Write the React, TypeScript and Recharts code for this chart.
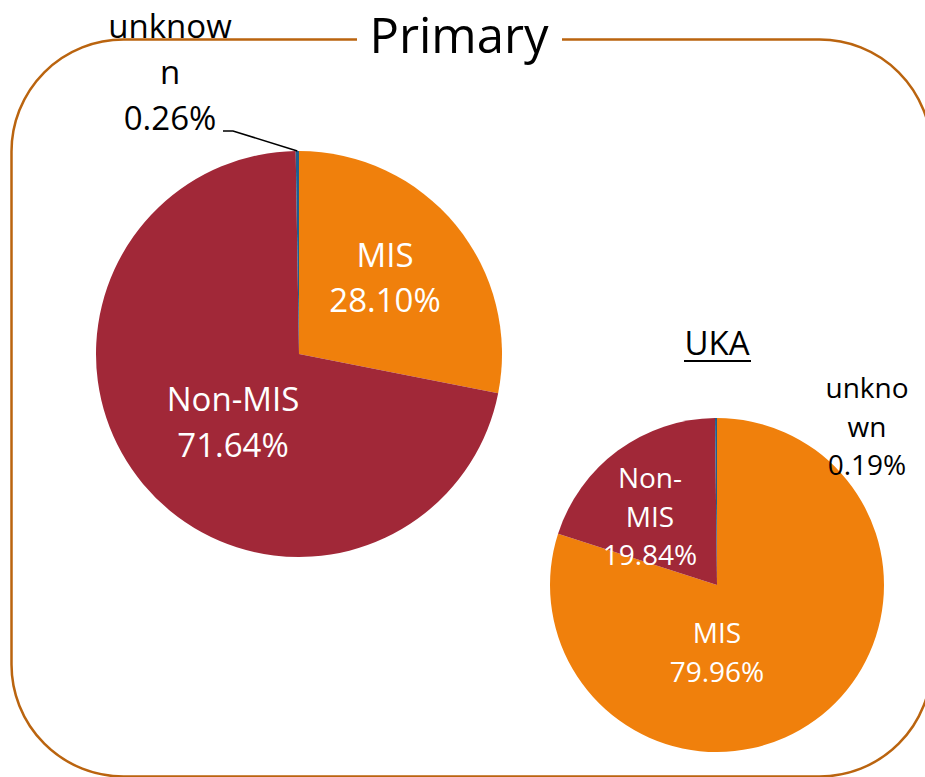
import React from 'react';
import { PieChart, Pie, Cell } from 'recharts';

const categories = ['MIS', 'Non-MIS', 'unknown'];
const primaryValues = [28.1, 71.64, 0.26];
const ukaValues = [79.96, 19.84, 0.19];
const chartTitle = 'Primary';
const subTitle = 'UKA';

const colors: Record<string, string> = {
  MIS: '#F0800C',
  'Non-MIS': '#A12838',
  unknown: '#1F5F8F',
};

const W = 925;
const H = 777;
const FONT = '"Open Sans", "Noto Sans", sans-serif';

const primaryData = categories.map((c, i) => ({ name: c, value: primaryValues[i] }));
const ukaData = categories.map((c, i) => ({ name: c, value: ukaValues[i] }));

type LabelCfg = { dx: number; dy: number; lh: number; lines: string[]; fill: string; size: number };

const primaryLabels: Record<string, LabelCfg> = {
  MIS: { dx: 86, dy: -87, lh: 45, lines: ['MIS'], fill: '#fff', size: 33 },
  'Non-MIS': { dx: -66, dy: 57, lh: 46, lines: ['Non-MIS'], fill: '#fff', size: 33 },
  unknown: { dx: -129, dy: -316, lh: 46, lines: ['unknow', 'n'], fill: '#000', size: 33 },
};

const ukaLabels: Record<string, LabelCfg> = {
  MIS: { dx: 0, dy: 58, lh: 39, lines: ['MIS'], fill: '#fff', size: 28 },
  'Non-MIS': { dx: -67, dy: -97, lh: 38.5, lines: ['Non-', 'MIS'], fill: '#fff', size: 28 },
  unknown: { dx: 150, dy: -187, lh: 38.5, lines: ['unkno', 'wn'], fill: '#000', size: 28 },
};

const RAD = Math.PI / 180;

function makeLabel(cfgMap: Record<string, LabelCfg>, leader: boolean) {
  return (props: any) => {
    const { cx, cy, name, value, midAngle, outerRadius } = props;
    const cfg = cfgMap[name];
    if (!cfg) return null;
    const x = cx + cfg.dx;
    const lines = [...cfg.lines, `${Number(value).toFixed(2)}%`];
    const els = lines.map((t, i) => (
      <text
        key={i}
        x={x}
        y={cy + cfg.dy + i * cfg.lh}
        textAnchor="middle"
        fill={cfg.fill}
        fontSize={cfg.size}
        fontFamily={FONT}
      >
        {t}
      </text>
    ));
    let line = null;
    if (leader && name === 'unknown') {
      const ex = cx + outerRadius * Math.cos(-midAngle * RAD);
      const ey = cy + outerRadius * Math.sin(-midAngle * RAD);
      const ly = cy + cfg.dy + (lines.length - 1) * cfg.lh + 1;
      line = (
        <polyline
          points={`${x + 53},${ly} ${x + 63},${ly} ${ex},${ey}`}
          fill="none"
          stroke="#000"
          strokeWidth={1.5}
        />
      );
    }
    return (
      <g>
        {line}
        {els}
      </g>
    );
  };
}

export default function App() {
  return (
    <div
      style={{
        position: 'absolute',
        left: 0,
        top: 0,
        width: W,
        height: H,
        overflow: 'hidden',
        background: '#fff',
      }}
    >
      <svg width={W} height={H} style={{ position: 'absolute', left: 0, top: 0 }}>
        <rect x={11.5} y={39.5} width={920} height={737} rx={112} ry={112} fill="none" stroke="#BA640F" strokeWidth={2.5} />
        <rect x={357} y={30} width={205} height={20} fill="#fff" />
        <text x={459} y={53} textAnchor="middle" fontSize={49} fontFamily={FONT} fill="#000">
          {chartTitle}
        </text>
        <text x={717} y={355} textAnchor="middle" fontSize={33} fontFamily={FONT} fill="#000">
          {subTitle}
        </text>
        <line x1={684} x2={751} y1={361} y2={361} stroke="#000" strokeWidth={1.8} />
      </svg>
      <div style={{ position: 'absolute', left: 0, top: 0 }}>
        <PieChart width={W} height={H} margin={{ top: 0, right: 0, bottom: 0, left: 0 }}>
          <Pie
            data={primaryData}
            dataKey="value"
            nameKey="name"
            cx={299}
            cy={354}
            outerRadius={203}
            startAngle={90}
            endAngle={-270}
            stroke="none"
            isAnimationActive={false}
            labelLine={false}
            label={makeLabel(primaryLabels, true)}
          >
            {primaryData.map((d) => (
              <Cell key={d.name} fill={colors[d.name]} />
            ))}
          </Pie>
          <Pie
            data={ukaData}
            dataKey="value"
            nameKey="name"
            cx={717}
            cy={585}
            outerRadius={167}
            startAngle={90}
            endAngle={-270}
            stroke="none"
            isAnimationActive={false}
            labelLine={false}
            label={makeLabel(ukaLabels, false)}
          >
            {ukaData.map((d) => (
              <Cell key={d.name} fill={colors[d.name]} />
            ))}
          </Pie>
        </PieChart>
      </div>
    </div>
  );
}
